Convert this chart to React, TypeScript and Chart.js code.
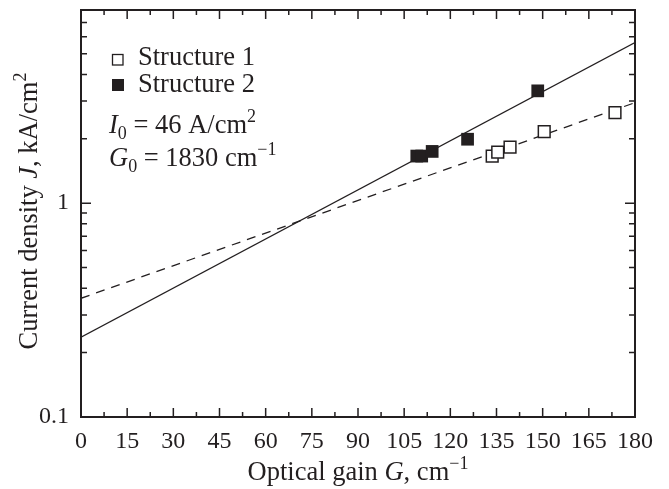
import React, { useEffect, useRef } from "react";
import { Chart, registerables } from "chart.js";

Chart.register(...registerables);

const gainS1 = [133.6, 135.4, 139.4, 150.5, 173.5];
const jS1 = [1.66, 1.73, 1.83, 2.16, 2.65];
const gainS2 = [109.1, 110.7, 114.1, 125.6, 148.4];
const jS2 = [1.66, 1.66, 1.745, 1.99, 3.35];
const fitGain = [0, 180];
const fit1J = [0.359, 2.95];
const fit2J = [0.236, 5.63];
const xTickValues = [0, 7.5, 15, 22.5, 30, 37.5, 45, 52.5, 60, 67.5, 75, 82.5, 90, 97.5, 105, 112.5, 120, 127.5, 135, 142.5, 150, 157.5, 165, 172.5, 180];
const yTickValues = [0.1, 0.2, 0.3, 0.4, 0.5, 0.6, 0.7, 0.8, 0.9, 1, 2, 3, 4, 5, 6, 7, 8];
const yLabeled = [0.1, 1];
const legendLabels = ["Structure 1", "Structure 2"];

const INK = "#231f20";
const FONT = "'Liberation Serif', 'DejaVu Serif', serif";
const BASE = 26.5;
const SMALL = 18;

type Run = { t: string; it?: boolean; sub?: boolean; sup?: boolean };

function runFont(r: Run) {
  const size = r.sub || r.sup ? SMALL : BASE;
  return `${r.it ? "italic " : ""}${size}px ${FONT}`;
}
function runsWidth(ctx: CanvasRenderingContext2D, runs: Run[]) {
  let w = 0;
  for (const r of runs) {
    ctx.font = runFont(r);
    w += ctx.measureText(r.t).width;
  }
  return w;
}
function drawRuns(ctx: CanvasRenderingContext2D, runs: Run[], x: number, y: number) {
  let cx = x;
  ctx.textBaseline = "alphabetic";
  ctx.textAlign = "left";
  for (const r of runs) {
    ctx.font = runFont(r);
    const dy = r.sub ? 6 : r.sup ? -11 : 0;
    ctx.fillText(r.t, cx, y + dy);
    cx += ctx.measureText(r.t).width;
  }
}

const framePlugin = {
  id: "framePlugin",
  afterDraw(chart: any) {
    const { ctx, chartArea: a, scales } = chart;
    const xs = scales.x;
    const ys = scales.y;
    ctx.save();
    ctx.strokeStyle = INK;
    ctx.fillStyle = INK;
    ctx.lineWidth = 2;
    ctx.strokeRect(a.left, a.top, a.right - a.left, a.bottom - a.top);
    ctx.lineWidth = 1.5;
    ctx.beginPath();
    for (const t of xs.ticks) {
      const v = t.value;
      const px = xs.getPixelForValue(v);
      const len = Math.abs(v % 15) < 1e-6 ? 9 : 5;
      ctx.moveTo(px, a.bottom);
      ctx.lineTo(px, a.bottom - len);
      ctx.moveTo(px, a.top);
      ctx.lineTo(px, a.top + len);
    }
    for (const t of ys.ticks) {
      const v = t.value;
      const py = ys.getPixelForValue(v);
      const len = yLabeled.includes(v) ? 10 : 6;
      ctx.moveTo(a.left, py);
      ctx.lineTo(a.left + len, py);
      ctx.moveTo(a.right, py);
      ctx.lineTo(a.right - len, py);
    }
    ctx.stroke();

    // legend
    ctx.lineWidth = 1.3;
    ctx.fillStyle = "#fff";
    ctx.fillRect(112.5, 54.5, 10.5, 10.5);
    ctx.strokeRect(112.5, 54.5, 10.5, 10.5);
    ctx.fillStyle = INK;
    ctx.fillRect(112, 79, 12, 12);
    drawRuns(ctx, [{ t: legendLabels[0] }], 138, 65);
    drawRuns(ctx, [{ t: legendLabels[1] }], 138, 91.5);
    drawRuns(ctx, [{ t: "I", it: true }, { t: "0", sub: true }, { t: " = 46 A/cm" }, { t: "2", sup: true }], 109, 133);
    drawRuns(ctx, [{ t: "G", it: true }, { t: "0", sub: true }, { t: " = 1830 cm" }, { t: "\u22121", sup: true }], 109, 165.5);

    // x title
    const xt: Run[] = [{ t: "Optical gain " }, { t: "G", it: true }, { t: ", cm" }, { t: "\u22121", sup: true }];
    const xw = runsWidth(ctx, xt);
    drawRuns(ctx, xt, (a.left + a.right) / 2 - xw / 2, 480);

    // y title
    const yt: Run[] = [{ t: "Current density " }, { t: "J", it: true }, { t: ", kA/cm" }, { t: "2", sup: true }];
    const yw = runsWidth(ctx, yt);
    ctx.translate(37, 211);
    ctx.rotate(-Math.PI / 2);
    drawRuns(ctx, yt, -yw / 2, 0);
    ctx.restore();
  },
};

export default function App() {
  const ref = useRef<HTMLCanvasElement | null>(null);
  useEffect(() => {
    if (!ref.current) return;
    const pts = (xs: number[], ys: number[]) => xs.map((x, i) => ({ x, y: ys[i] }));
    const chart = new Chart(ref.current, {
      type: "scatter",
      data: {
        datasets: [
          {
            label: legendLabels[0],
            data: pts(gainS1, jS1),
            pointStyle: "rect",
            pointRadius: 8.3,
            backgroundColor: "#fff",
            borderColor: INK,
            borderWidth: 1.5,
            order: 0,
          },
          {
            label: legendLabels[1],
            data: pts(gainS2, jS2),
            pointStyle: "rect",
            pointRadius: 9,
            backgroundColor: INK,
            borderColor: INK,
            borderWidth: 0,
            order: 0,
          },
          {
            label: "fit 1",
            data: pts(fitGain, fit1J),
            showLine: true,
            pointRadius: 0,
            borderColor: INK,
            borderWidth: 1.3,
            borderDash: [9, 7],
            order: 1,
          },
          {
            label: "fit 2",
            data: pts(fitGain, fit2J),
            showLine: true,
            pointRadius: 0,
            borderColor: INK,
            borderWidth: 1.3,
            order: 1,
          },
        ],
      },
      options: {
        responsive: false,
        animation: false,
        layout: { padding: { top: 10, right: 34, left: 0, bottom: 0 } },
        plugins: { legend: { display: false }, tooltip: { enabled: false } },
        scales: {
          x: {
            type: "linear",
            min: 0,
            max: 180,
            afterBuildTicks: (s: any) => {
              s.ticks = xTickValues.map((v) => ({ value: v }));
            },
            afterFit: (s: any) => {
              s.height = 72;
              s.paddingLeft = 0;
              s.paddingRight = 0;
            },
            grid: { display: false, drawTicks: false },
            border: { display: false },
            ticks: {
              autoSkip: false,
              maxRotation: 0,
              padding: 10,
              color: INK,
              font: { family: FONT, size: 24 },
              callback: (v: any) => (Math.abs(Number(v) % 15) < 1e-6 ? String(v) : ""),
            },
          },
          y: {
            type: "logarithmic",
            min: 0.1,
            max: 8,
            afterBuildTicks: (s: any) => {
              s.ticks = yTickValues.map((v) => ({ value: v }));
            },
            afterFit: (s: any) => {
              s.width = 81;
              s.paddingTop = 0;
              s.paddingBottom = 0;
            },
            grid: { display: false, drawTicks: false },
            border: { display: false },
            ticks: {
              autoSkip: false,
              padding: 12,
              color: INK,
              font: { family: FONT, size: 24 },
              callback: (v: any) => (yLabeled.includes(Number(v)) ? String(v) : ""),
            },
          },
        },
      },
      plugins: [framePlugin],
    } as any);
    return () => chart.destroy();
  }, []);
  return (
    <div style={{ position: "absolute", left: 0, top: 0, width: 669, height: 489, background: "#fff" }}>
      <canvas ref={ref} width={669} height={489} style={{ display: "block" }} />
    </div>
  );
}
